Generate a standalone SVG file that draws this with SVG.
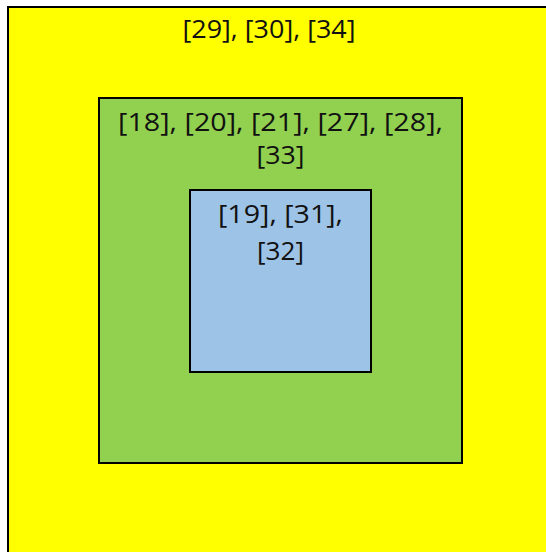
<svg xmlns="http://www.w3.org/2000/svg" width="546" height="552" viewBox="0 0 546 552">
  <style>
    .box { stroke: #000; stroke-width: 2; }
    .lbl { font-family: "Open Sans", "Liberation Sans", Arial, sans-serif; font-size: 26px; fill: #111; text-anchor: middle; }
  </style>
  <rect width="546" height="552" fill="#fff"/>
  <g id="outer">
    <rect class="box" x="8" y="7" width="560" height="570" fill="#ffff00"/>
    <text class="lbl" x="269" y="38" textLength="173" lengthAdjust="spacingAndGlyphs">[29], [30], [34]</text>
  </g>
  <g id="middle">
    <rect class="box" x="99" y="98" width="363" height="365" fill="#92d050"/>
    <text class="lbl" x="280.5" y="131" textLength="325" lengthAdjust="spacingAndGlyphs">[18], [20], [21], [27], [28],</text>
    <text class="lbl" x="280.5" y="164" textLength="48" lengthAdjust="spacingAndGlyphs">[33]</text>
  </g>
  <g id="inner">
    <rect class="box" x="190" y="190" width="181" height="182" fill="#9dc3e6"/>
    <text class="lbl" x="280.5" y="223" textLength="125" lengthAdjust="spacingAndGlyphs">[19], [31],</text>
    <text class="lbl" x="280.5" y="260" textLength="47" lengthAdjust="spacingAndGlyphs">[32]</text>
  </g>
  <g id="connectors"/>
</svg>
